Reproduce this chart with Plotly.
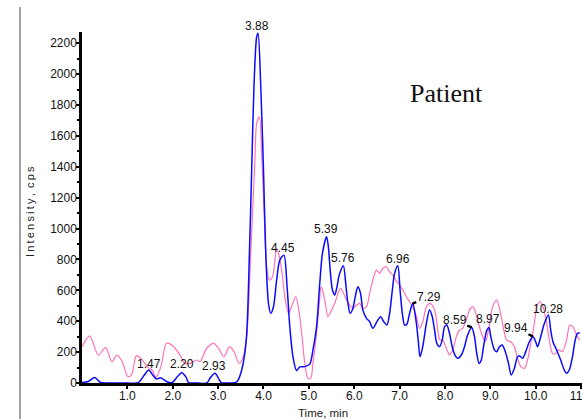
import plotly.graph_objects as go

# Extracted ion chromatogram, patient sample (blue) with overlaid reference trace (pink)
blue_time = [0.00, 0.14, 0.28, 0.41, 0.63, 1.00, 1.24, 1.37, 1.47, 1.55, 1.64, 1.73, 1.81, 1.90, 1.99,
             2.10, 2.20, 2.29, 2.35, 2.55, 2.75, 2.83, 2.93, 3.01, 3.07, 3.20, 3.33, 3.42, 3.52, 3.62,
             3.69, 3.74, 3.79, 3.85, 3.88, 3.94, 4.00, 4.05, 4.11, 4.16, 4.22, 4.29, 4.36, 4.45, 4.52,
             4.58, 4.65, 4.73, 4.80, 4.91, 5.02, 5.09, 5.17, 5.24, 5.30, 5.39, 5.43, 5.47, 5.52, 5.57,
             5.62, 5.67, 5.76, 5.82, 5.86, 5.91, 5.97, 6.03, 6.08, 6.14, 6.19, 6.27, 6.34, 6.41, 6.50,
             6.58, 6.65, 6.72, 6.78, 6.84, 6.89, 6.96, 7.01, 7.06, 7.11, 7.16, 7.22, 7.29, 7.36, 7.41,
             7.45, 7.51, 7.59, 7.66, 7.72, 7.77, 7.82, 7.88, 7.94, 7.99, 8.04, 8.10, 8.16, 8.22, 8.28,
             8.36, 8.43, 8.50, 8.59, 8.65, 8.70, 8.75, 8.80, 8.85, 8.92, 8.97, 9.01, 9.09, 9.14, 9.20,
             9.26, 9.33, 9.40, 9.46, 9.53, 9.60, 9.65, 9.71, 9.78, 9.86, 9.94, 10.00, 10.04, 10.11,
             10.19, 10.28, 10.33, 10.38, 10.46, 10.55, 10.63, 10.68, 10.74, 10.81, 10.87, 10.92, 10.97]
blue_intensity = [4, 10, 35, 3, 0, 0, 2, 50, 84, 55, 26, 34, 20, 5, 3,
                  40, 67, 40, 3, 0, 0, 35, 63, 30, 2, 0, 0, 10, 84, 278,
                  840, 1379, 1918, 2241, 2265, 1918, 1379, 840, 516, 451, 494, 667, 796, 828, 623,
                  364, 170, 80, 104, 106, 122, 214, 364, 645, 840, 947, 882, 731, 602, 570,
                  623, 700, 760, 620, 520, 451, 483, 570, 623, 580, 472, 419, 397, 354, 397,
                  429, 397, 375, 451, 602, 710, 760, 602, 451, 375, 380, 451, 516, 408, 278,
                  170, 235, 386, 472, 429, 343, 257, 235, 278, 364, 375, 322, 235, 181, 160,
                  181, 235, 311, 360, 300, 192, 127, 149, 235, 340, 360, 300, 214, 203, 235,
                  246, 203, 127, 52, 95, 170, 175, 160, 203, 267, 300, 267, 235, 300,
                  386, 440, 343, 267, 214, 149, 84, 63, 84, 170, 278, 322, 322]

pink_time = [0.00, 0.17, 0.36, 0.52, 0.66, 0.77, 0.88, 1.01, 1.09, 1.20, 1.32, 1.43, 1.54, 1.63, 1.74,
             1.86, 1.95, 2.05, 2.16, 2.27, 2.38, 2.53, 2.60, 2.75, 2.90, 3.01, 3.13, 3.25, 3.35, 3.46,
             3.55, 3.63, 3.72, 3.81, 3.85, 3.91, 3.96, 4.02, 4.07, 4.13, 4.20, 4.29, 4.35, 4.42, 4.47,
             4.55, 4.62, 4.71, 4.79, 4.85, 4.91, 4.98, 5.04, 5.09, 5.17, 5.23, 5.27, 5.31, 5.37, 5.42,
             5.50, 5.57, 5.64, 5.70, 5.75, 5.83, 5.90, 5.97, 6.05, 6.12, 6.19, 6.27, 6.34, 6.41, 6.49,
             6.56, 6.63, 6.71, 6.78, 6.85, 6.93, 7.00, 7.07, 7.15, 7.22, 7.29, 7.37, 7.44, 7.51, 7.59,
             7.66, 7.72, 7.79, 7.84, 7.89, 7.95, 8.03, 8.10, 8.17, 8.25, 8.32, 8.39, 8.47, 8.54, 8.62,
             8.69, 8.76, 8.83, 8.89, 8.96, 9.05, 9.14, 9.21, 9.29, 9.36, 9.45, 9.53, 9.60, 9.67, 9.75,
             9.82, 9.89, 9.97, 10.02, 10.09, 10.16, 10.23, 10.30, 10.37, 10.43, 10.50, 10.59, 10.68,
             10.75, 10.82, 10.90, 10.97]
pink_intensity = [235, 305, 181, 229, 138, 181, 142, 41, 52, 177, 153, 106, 84, 37, 106,
                  257, 252, 225, 181, 127, 127, 149, 138, 225, 257, 225, 170, 235, 203, 127,
                  165, 300, 841, 1443, 1681, 1724, 1489, 1055, 753, 667, 688, 870, 818, 688, 559,
                  451, 494, 559, 451, 300, 127, 30, 30, 127, 322, 516, 623, 591, 505, 429,
                  472, 516, 580, 613, 591, 537, 505, 483, 505, 516, 483, 494, 580, 667, 731,
                  710, 742, 753, 720, 699, 660, 634, 602, 559, 526, 494, 429, 354, 397, 494,
                  516, 505, 451, 343, 278, 278, 225, 181, 214, 300, 343, 354, 408, 472, 494,
                  440, 364, 300, 267, 343, 494, 537, 472, 354, 278, 267, 235, 160, 106, 95,
                  149, 257, 386, 494, 526, 494, 408, 278, 192, 188, 214, 203, 278,
                  375, 364, 311, 278]

# Labelled retention times (min) on the blue trace
peak_times = [1.47, 2.20, 2.93, 3.88, 4.45, 5.39, 5.76, 6.96, 7.29, 8.59, 8.97, 9.94, 10.28]

x_tick_values = [1, 2, 3, 4, 5, 6, 7, 8, 9, 10, 11]
x_tick_text = ["1.0", "2.0", "3.0", "4.0", "5.0", "6.0", "7.0", "8.0", "9.0", "10.0", "11.0"]
y_tick_values = [0, 200, 400, 600, 800, 1000, 1200, 1400, 1600, 1800, 2000, 2200]

SANS = "Liberation Sans, Arial, sans-serif"
BLUE = "#0a0aff"
PINK = "#ff72b8"

# label placement: (xshift, yshift) above the peak, or arrow offset (ax, ay) for leader-line labels
label_style = {
    1.47: ("shift", 0, 6.5), 2.20: ("shift", 0, 8.5), 2.93: ("shift", -1, 7),
    3.88: ("shift", -1, 7), 4.45: ("shift", -1, 7.5), 5.39: ("shift", -1, 8),
    5.76: ("shift", 0, 7.5), 6.96: ("shift", 0, 7), 7.29: ("arrow", 16, -6),
    8.59: ("arrow", -17, -7), 8.97: ("shift", -1, 8.5), 9.94: ("arrow", -17, -9),
    10.28: ("shift", 0, 6),
}

fig = go.Figure()
fig.add_trace(go.Scatter(x=pink_time, y=pink_intensity, mode="lines",
                         line=dict(color=PINK, width=1.2, shape="spline", smoothing=0.8),
                         hoverinfo="skip", showlegend=False))
fig.add_trace(go.Scatter(x=blue_time, y=blue_intensity, mode="lines",
                         line=dict(color=BLUE, width=1.5, shape="spline", smoothing=0.8),
                         hoverinfo="skip", showlegend=False))

annotations = []
for t in peak_times:
    v = blue_intensity[blue_time.index(t)]
    kind, dx, dy = label_style[t]
    base = dict(x=t, y=v, xref="x", yref="y", text=f"{t:.2f}",
                font=dict(family=SANS, size=12, color="#111"))
    if kind == "shift":
        base.update(showarrow=False, xanchor="center", yanchor="middle", xshift=dx, yshift=dy)
    else:
        base.update(showarrow=True, ax=dx, ay=dy, axref="pixel", ayref="pixel",
                    arrowhead=0, arrowwidth=2.4, arrowcolor="#000", standoff=0,
                    startstandoff=0, xanchor="center", yanchor="middle", borderpad=0)
    annotations.append(base)

annotations += [
    dict(text="I\u2009n\u2009t\u2009e\u2009n\u2009s\u2009i\u2009t\u2009y\u2009,\u2009 c\u2009p\u2009s",
         x=-0.104, y=0.487, xref="paper", yref="paper", textangle=-90, showarrow=False,
         xanchor="center", yanchor="middle", font=dict(family=SANS, size=11, color="#222")),
    dict(text="Time, min", x=0.482, y=-0.085, xref="paper", yref="paper", showarrow=False,
         xanchor="center", yanchor="middle", font=dict(family=SANS, size=11.5, color="#222")),
    dict(text="Patient", x=0.729, y=0.826, xref="paper", yref="paper", showarrow=False,
         xanchor="center", yanchor="middle",
         font=dict(family="Liberation Serif, Times New Roman, serif", size=26, color="#111")),
]

fig.update_layout(
    width=582, height=419,
    margin=dict(l=82, r=0, t=32, b=36, pad=0),
    paper_bgcolor="white", plot_bgcolor="white",
    annotations=annotations,
    shapes=[dict(type="line", xref="paper", yref="paper", x0=-0.124, x1=-0.124,
                 y0=-0.11, y1=1.071, line=dict(color="#444", width=1))],
    xaxis=dict(range=[0, 11.02], tickvals=x_tick_values, ticktext=x_tick_text,
               showline=True, linecolor="black", linewidth=3, ticks="outside",
               ticklen=3, tickwidth=1.5, tickcolor="black", showgrid=False, zeroline=False,
               ticklabeloverflow="allow", ticklabelstandoff=-3,
               tickfont=dict(family=SANS, size=12, color="#111"), automargin=False),
    yaxis=dict(range=[0, 2273], tickvals=y_tick_values,
               showline=True, linecolor="black", linewidth=2.5, ticks="outside",
               ticklen=3, tickwidth=1.5, tickcolor="black", showgrid=False, zeroline=False,
               ticklabelstandoff=-3,
               minor=dict(dtick=100, ticks="outside", ticklen=2, tickwidth=1.5, tickcolor="black"),
               tickfont=dict(family=SANS, size=12, color="#111"), automargin=False),
)

fig.write_html("out.html")
